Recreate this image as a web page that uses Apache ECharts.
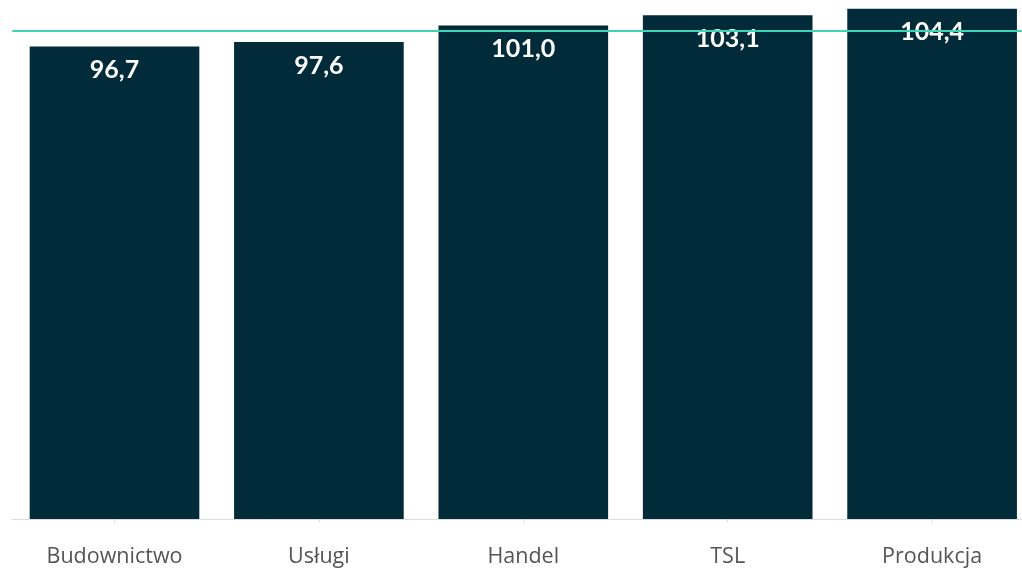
<!DOCTYPE html>
<html><head><meta charset="utf-8">
<script src="https://cdn.jsdelivr.net/npm/echarts@6/dist/echarts.min.js"></script>
<style>html,body{margin:0;padding:0;background:#fff;overflow:hidden}#c{width:1047px;height:568px}</style>
</head><body><div id="c"></div>
<script>
const categories = ['Budownictwo', 'Usługi', 'Handel', 'TSL', 'Produkcja'];
const values = [96.7, 97.6, 101.0, 103.1, 104.4];
const referenceValue = 100;

const chart = echarts.init(document.getElementById('c'), null, {renderer: 'canvas'});
chart.setOption({
  animation: false,
  grid: {left: 12.3, right: 12.7, top: 1, bottom: 48.5, containLabel: false},
  xAxis: {
    type: 'category',
    data: categories,
    axisLine: {lineStyle: {color: '#dcdcdc', width: 1}},
    axisTick: {show: true, alignWithLabel: true, length: 4, lineStyle: {color: '#e4e4e4'}},
    axisLabel: {color: '#555', fontFamily: 'Open Sans', fontSize: 21.5, margin: 27}
  },
  yAxis: {
    type: 'value', min: 0, max: 106, show: false,
    splitLine: {show: false}
  },
  series: [{
    type: 'bar',
    data: values,
    barCategoryGap: '17%',
    itemStyle: {color: '#022b3a'},
    label: {
      show: true, position: 'insideTop', distance: 11,
      color: '#fff', fontFamily: 'Lato', fontWeight: 'bold', fontSize: 25,
      formatter: p => p.value.toFixed(1).replace('.', ',')
    },
    markLine: {
      silent: true, symbol: 'none', label: {show: false},
      lineStyle: {color: '#3dd6b5', width: 2, type: 'solid'},
      data: [{yAxis: referenceValue}]
    }
  }]
});
</script></body></html>
